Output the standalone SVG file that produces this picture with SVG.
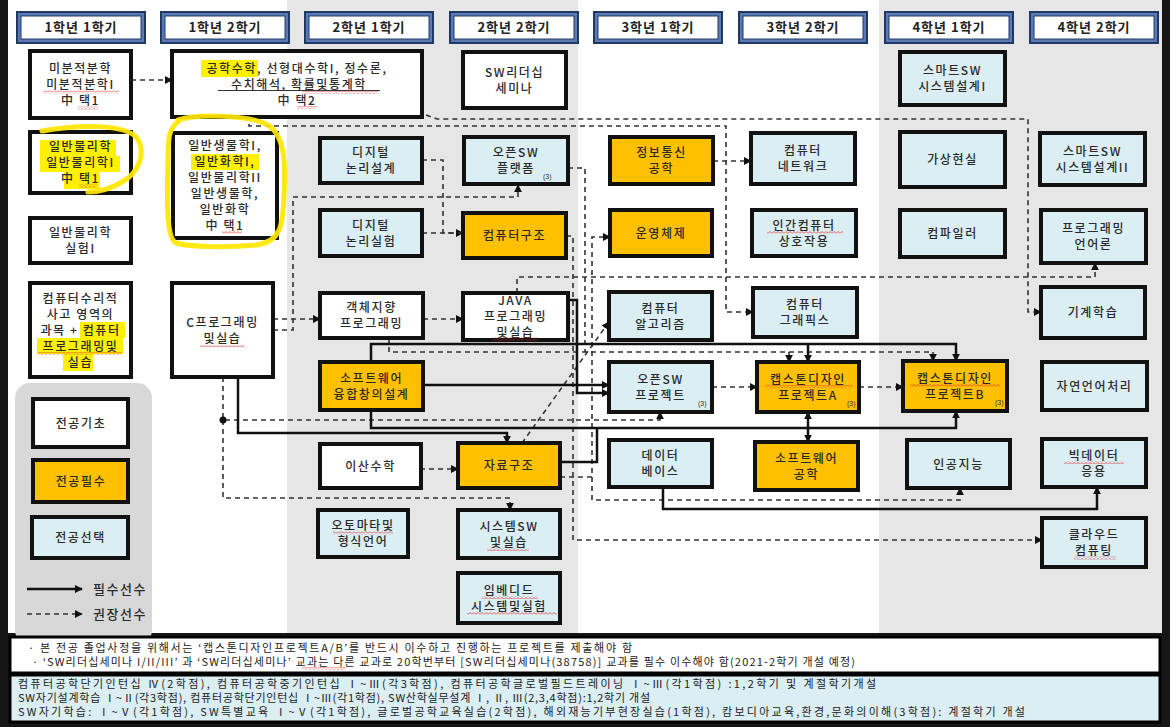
<svg xmlns="http://www.w3.org/2000/svg" width="1170" height="727" viewBox="0 0 1170 727">
<style>
.ho{fill:#5B79B5;stroke:#1F3864;stroke-width:2}
.hi{fill:#fff;stroke:#1F3864;stroke-width:1}
.ht{font-family:"Noto Sans CJK KR","Noto Sans",sans-serif;font-weight:bold;font-size:13px;fill:#222;text-anchor:middle;letter-spacing:1px}
.box{stroke:#111;stroke-width:4}
.w{fill:#fff}.y{fill:#FFC000}.b{fill:#DAEEF3}
.t{font-family:"Noto Sans CJK KR","Noto Sans",sans-serif;font-size:12px;font-weight:500;fill:#2a2a2a;text-anchor:middle;letter-spacing:1.6px}
.sm{font-family:"Liberation Sans",sans-serif;font-size:7px;fill:#333}
.d{fill:none;stroke:#333;stroke-width:1.6;stroke-dasharray:5 4}
.s{fill:none;stroke:#111;stroke-width:2.5}
.hl{fill:#FFF000}
.loop{fill:none;stroke:#FFE600;stroke-width:5;stroke-linecap:round;opacity:0.92}
.sq{fill:url(#sq)}
.nt{font-family:"Noto Sans CJK KR","Noto Sans",sans-serif;font-size:11px;fill:#222}
</style>
<defs>
<marker id="ah" viewBox="0 0 10 10" refX="9" refY="5" markerWidth="8" markerHeight="8" markerUnits="userSpaceOnUse" orient="auto"><path d="M0,0 L10,5 L0,10 z" fill="#111"/></marker>
<pattern id="sq" width="4" height="3" patternUnits="userSpaceOnUse"><path d="M0,2.5 L2,0.5 L4,2.5" fill="none" stroke="#E03030" stroke-width="0.8"/></pattern>
</defs>

<!-- background -->
<rect width="1170" height="727" fill="#161616"/>
<rect x="8" y="0" width="1154" height="633" fill="#fff"/>
<rect x="287" y="0" width="291" height="633" fill="#E6E6E6"/>
<rect x="879" y="0" width="283" height="633" fill="#E6E6E6"/>
<rect x="15" y="383" width="137" height="262" rx="15" fill="#D8D8D8"/>

<!-- headers -->
<g id="headers">
<g id="h1"><rect class="ho" x="17" y="12" width="128" height="31"/><rect class="hi" x="21" y="16" width="120" height="23"/><text class="ht" x="81" y="32">1학년 1학기</text></g>
<g id="h2"><rect class="ho" x="161" y="12" width="128" height="31"/><rect class="hi" x="165" y="16" width="120" height="23"/><text class="ht" x="225" y="32">1학년 2학기</text></g>
<g id="h3"><rect class="ho" x="305" y="12" width="128" height="31"/><rect class="hi" x="309" y="16" width="120" height="23"/><text class="ht" x="369" y="32">2학년 1학기</text></g>
<g id="h4"><rect class="ho" x="450" y="12" width="128" height="31"/><rect class="hi" x="454" y="16" width="120" height="23"/><text class="ht" x="514" y="32">2학년 2학기</text></g>
<g id="h5"><rect class="ho" x="594" y="12" width="128" height="31"/><rect class="hi" x="598" y="16" width="120" height="23"/><text class="ht" x="658" y="32">3학년 1학기</text></g>
<g id="h6"><rect class="ho" x="739" y="12" width="128" height="31"/><rect class="hi" x="743" y="16" width="120" height="23"/><text class="ht" x="803" y="32">3학년 2학기</text></g>
<g id="h7"><rect class="ho" x="885" y="12" width="128" height="31"/><rect class="hi" x="889" y="16" width="120" height="23"/><text class="ht" x="949" y="32">4학년 1학기</text></g>
<g id="h8"><rect class="ho" x="1030" y="12" width="128" height="31"/><rect class="hi" x="1034" y="16" width="120" height="23"/><text class="ht" x="1094" y="32">4학년 2학기</text></g>
</g>

<!-- connectors -->
<g id="connectors">
<path class="d" d="M131,80 H172" marker-end="url(#ah)"/>
<path class="d" d="M249,97 V126 H726 V312 H753" marker-end="url(#ah)"/>
<path class="d" d="M367,93 L437,119 H1028 V312 H1041" marker-end="url(#ah)"/>
<path class="d" d="M273,319 H320" marker-end="url(#ah)"/>
<path class="d" d="M273,330 H293 V197 H518 V185" marker-end="url(#ah)"/>
<path class="d" d="M422,160 H443 V233 H463" marker-end="url(#ah)"/>
<path class="d" d="M422,233 H463"/>
<path class="d" d="M713,161 H751" marker-end="url(#ah)"/>
<path class="d" d="M568,168 H585 V352"/>
<path class="d" d="M223,377 V420 H660 V412" marker-end="url(#ah)"/>
<path class="d" d="M223,420 V498 H510 V510" marker-end="url(#ah)"/>
<circle cx="223" cy="420" r="3.5" fill="#111"/>
<path class="d" d="M423,319 H463" marker-end="url(#ah)"/>
<path class="d" d="M517,293 V277 H1095 V263" marker-end="url(#ah)"/>
<path class="d" d="M389,338 V352 H933 V361" marker-end="url(#ah)"/>
<path class="d" d="M789,352 V362" marker-end="url(#ah)"/>
<path class="d" d="M420,469 H458" marker-end="url(#ah)"/>
<path class="d" d="M522,443 L609,322" marker-end="url(#ah)"/>
<path class="d" d="M560,477 H592 V237 H610" marker-end="url(#ah)"/>
<path class="d" d="M592,477 V500 H960 V488" marker-end="url(#ah)"/>
<path class="d" d="M566,236 H573 V540 H1042" marker-end="url(#ah)"/>
<path class="d" d="M712,387 H757" marker-end="url(#ah)"/>
<path class="d" d="M859,387 H903" marker-end="url(#ah)"/>

<path class="s" d="M238,377 V433 H507 V443" marker-end="url(#ah)"/>
<path class="s" d="M371,362 V344 H956 V361" marker-end="url(#ah)"/>
<path class="s" d="M808,344 V362" marker-end="url(#ah)"/>
<path class="s" d="M423,385 H609" marker-end="url(#ah)"/>
<path class="s" d="M568,300 H577 V393 H609" marker-end="url(#ah)"/>
<path class="s" d="M371,410 V428 H956 V411" marker-end="url(#ah)"/>
<path class="s" d="M808,428 V412" marker-end="url(#ah)"/>
<path class="s" d="M808,428 V442" marker-end="url(#ah)"/>
<path class="s" d="M560,462 H597 V428"/>
<path class="s" d="M663,487 V509 H1097 V487" marker-end="url(#ah)"/>
</g>

<!-- nodes -->
<g id="n-calc"><rect class="box w" x="30" y="51" width="101" height="67"/>
<text class="t"><tspan x="80.5" y="73">미분적분학</tspan><tspan x="80.5" y="89">미분적분학I</tspan><tspan x="80.5" y="105">中 택1</tspan></text>
<rect class="sq" x="43" y="90.5" width="76" height="3"/><rect class="sq" x="78" y="106.5" width="20" height="3"/></g>

<g id="n-phys"><rect class="box w" x="30" y="132" width="101" height="61"/>
<rect class="hl" x="40" y="140" width="76" height="16"/><rect class="hl" x="40" y="156" width="80" height="16"/><rect class="hl" x="64" y="171" width="36" height="18"/>
<text class="t"><tspan x="80.5" y="151">일반물리학</tspan><tspan x="80.5" y="167">일반물리학I</tspan><tspan x="80.5" y="183">中 택1</tspan></text>
<rect class="sq" x="79" y="184.5" width="18" height="3"/></g>

<g id="n-physlab"><rect class="box w" x="30" y="218" width="101" height="45"/>
<text class="t"><tspan x="80.5" y="237">일반물리학</tspan><tspan x="80.5" y="253">실험I</tspan></text></g>

<g id="n-cmath"><rect class="box w" x="30" y="283" width="101" height="94"/>
<rect class="hl" x="80" y="322" width="45" height="16"/><rect class="hl" x="37" y="338" width="86" height="16"/><rect class="hl" x="63" y="354" width="30" height="17"/>
<text class="t"><tspan x="80.5" y="302.5">컴퓨터수리적</tspan><tspan x="80.5" y="318.5">사고 영역의</tspan><tspan x="80.5" y="334.5">과목 + 컴퓨터</tspan><tspan x="80.5" y="350.5">프로그래밍및</tspan><tspan x="80.5" y="366.5">실습</tspan></text>
<rect class="sq" x="38" y="352" width="84" height="3"/></g>

<g id="n-engmath"><rect class="box w" x="172" y="51" width="250" height="66"/>
<rect class="hl" x="201" y="60" width="57" height="17"/>
<text class="t"><tspan x="297" y="72.5">공학수학, 선형대수학I, 정수론,</tspan><tspan x="299" y="88.5">수치해석, 확률및통계학</tspan><tspan x="297" y="104.5">中 택2</tspan></text>
<line x1="218" y1="90.5" x2="380" y2="90.5" stroke="#333" stroke-width="1"/>
<rect class="sq" x="302" y="91" width="76" height="3"/><rect class="sq" x="297" y="106" width="20" height="3"/></g>

<g id="n-bio"><rect class="box w" x="173" y="133" width="104" height="105"/>
<rect class="hl" x="191" y="154" width="68" height="16"/>
<text class="t"><tspan x="225" y="150">일반생물학I,</tspan><tspan x="225" y="166">일반화학I,</tspan><tspan x="225" y="182">일반물리학II</tspan><tspan x="225" y="198">일반생물학,</tspan><tspan x="225" y="214">일반화학</tspan><tspan x="225" y="230">中 택1</tspan></text>
<rect class="sq" x="222" y="231" width="20" height="3"/></g>

<g id="n-cprog"><rect class="box w" x="172" y="283" width="101" height="94"/>
<text class="t"><tspan x="222.5" y="327">C프로그래밍</tspan><tspan x="222.5" y="343">및실습</tspan></text>
<rect class="sq" x="200" y="344.5" width="45" height="3"/></g>

<g id="n-dlogic"><rect class="box b" x="320" y="138" width="102" height="45"/>
<text class="t"><tspan x="371" y="157">디지털</tspan><tspan x="371" y="173">논리설계</tspan></text></g>
<g id="n-dlab"><rect class="box b" x="320" y="210" width="102" height="46"/>
<text class="t"><tspan x="371" y="229.5">디지털</tspan><tspan x="371" y="245.5">논리실험</tspan></text></g>
<g id="n-oop"><rect class="box w" x="320" y="293" width="103" height="45"/>
<text class="t"><tspan x="371.5" y="312">객체지향</tspan><tspan x="371.5" y="328">프로그래밍</tspan></text></g>
<g id="n-swconv"><rect class="box y" x="320" y="362" width="103" height="48"/>
<text class="t"><tspan x="371.5" y="382.5">소프트웨어</tspan><tspan x="371.5" y="398.5">융합창의설계</tspan></text></g>
<g id="n-discrete"><rect class="box w" x="320" y="444" width="101" height="44"/>
<text class="t" x="370.5" y="470.5">이산수학</text></g>
<g id="n-automata"><rect class="box b" x="318" y="510" width="90" height="47"/>
<text class="t"><tspan x="363" y="530">오토마타및</tspan><tspan x="363" y="546">형식언어</tspan></text>
<rect class="sq" x="333" y="531.5" width="60" height="3"/></g>

<g id="n-swlead"><rect class="box w" x="463" y="52" width="103" height="56"/>
<text class="t"><tspan x="514.5" y="76.5">SW리더십</tspan><tspan x="514.5" y="92.5">세미나</tspan></text></g>
<g id="n-osplat"><rect class="box b" x="464" y="137" width="104" height="47"/>
<text class="t"><tspan x="516" y="157">오픈SW</tspan><tspan x="516" y="173">플랫폼</tspan></text>
<text class="sm" x="543" y="179">(3)</text></g>
<g id="n-arch"><rect class="box y" x="463" y="213" width="103" height="45"/>
<text class="t" x="514.5" y="240">컴퓨터구조</text></g>
<g id="n-java"><rect class="box w" x="463" y="293" width="105" height="47"/>
<text class="t"><tspan x="515.5" y="305">JAVA</tspan><tspan x="515.5" y="321">프로그래밍</tspan><tspan x="515.5" y="337">및실습</tspan></text>
<rect class="sq" x="493" y="337.5" width="45" height="3"/></g>
<g id="n-ds"><rect class="box y" x="458" y="443" width="102" height="45"/>
<text class="t" x="509" y="470">자료구조</text></g>
<g id="n-syssw"><rect class="box b" x="458" y="510" width="102" height="48"/>
<text class="t"><tspan x="509" y="530.5">시스템SW</tspan><tspan x="509" y="546.5">및실습</tspan></text>
<rect class="sq" x="487" y="548" width="42" height="3"/></g>
<g id="n-embed"><rect class="box b" x="458" y="573" width="102" height="50"/>
<text class="t"><tspan x="509" y="594.5">임베디드</tspan><tspan x="509" y="610.5">시스템및실험</tspan></text>
<rect class="sq" x="482" y="596" width="56" height="3"/><rect class="sq" x="467" y="612" width="90" height="3"/></g>

<g id="n-infocomm"><rect class="box y" x="610" y="137" width="103" height="47"/>
<text class="t"><tspan x="661.5" y="157">정보통신</tspan><tspan x="661.5" y="173">공학</tspan></text></g>
<g id="n-os"><rect class="box y" x="610" y="210" width="102" height="46"/>
<text class="t" x="661" y="237.5">운영체제</text></g>
<g id="n-algo"><rect class="box b" x="609" y="292" width="103" height="48"/>
<text class="t"><tspan x="660.5" y="312.5">컴퓨터</tspan><tspan x="660.5" y="328.5">알고리즘</tspan></text></g>
<g id="n-osproj"><rect class="box b" x="609" y="362" width="103" height="50"/>
<text class="t"><tspan x="660.5" y="383.5">오픈SW</tspan><tspan x="660.5" y="399.5">프로젝트</tspan></text>
<text class="sm" x="698" y="406">(3)</text></g>
<g id="n-db"><rect class="box b" x="609" y="440" width="103" height="47"/>
<text class="t"><tspan x="660.5" y="460">데이터</tspan><tspan x="660.5" y="476">베이스</tspan></text></g>

<g id="n-net"><rect class="box b" x="751" y="133" width="104" height="51"/>
<text class="t"><tspan x="803" y="155">컴퓨터</tspan><tspan x="803" y="171">네트워크</tspan></text></g>
<g id="n-hci"><rect class="box b" x="752" y="210" width="104" height="46"/>
<text class="t"><tspan x="804" y="229.5">인간컴퓨터</tspan><tspan x="804" y="245.5">상호작용</tspan></text>
<rect class="sq" x="767" y="231" width="76" height="3"/></g>
<g id="n-graphics"><rect class="box b" x="753" y="288" width="104" height="49"/>
<text class="t"><tspan x="805" y="309">컴퓨터</tspan><tspan x="805" y="325">그래픽스</tspan></text></g>
<g id="n-capA"><rect class="box y" x="757" y="362" width="102" height="50"/>
<text class="t"><tspan x="808" y="383.5">캡스톤디자인</tspan><tspan x="808" y="399.5">프로젝트A</tspan></text>
<text class="sm" x="847" y="406">(3)</text>
<rect class="sq" x="765" y="385" width="88" height="3"/></g>
<g id="n-swe"><rect class="box y" x="755" y="442" width="103" height="48"/>
<text class="t"><tspan x="806.5" y="462.5">소프트웨어</tspan><tspan x="806.5" y="478.5">공학</tspan></text></g>

<g id="n-smart1"><rect class="box b" x="900" y="52" width="105" height="53"/>
<text class="t"><tspan x="952.5" y="75">스마트SW</tspan><tspan x="952.5" y="91">시스템설계I</tspan></text></g>
<g id="n-vr"><rect class="box b" x="900" y="132" width="105" height="55"/>
<text class="t" x="952.5" y="164">가상현실</text></g>
<g id="n-compiler"><rect class="box b" x="900" y="210" width="105" height="47"/>
<text class="t" x="952.5" y="238">컴파일러</text></g>
<g id="n-capB"><rect class="box y" x="903" y="361" width="104" height="50"/>
<text class="t"><tspan x="955" y="382.5">캡스톤디자인</tspan><tspan x="955" y="398.5">프로젝트B</tspan></text>
<text class="sm" x="995" y="405">(3)</text>
<rect class="sq" x="910" y="384" width="90" height="3"/></g>
<g id="n-ai"><rect class="box b" x="907" y="440" width="103" height="48"/>
<text class="t" x="958.5" y="468.5">인공지능</text></g>

<g id="n-smart2"><rect class="box b" x="1040" y="133" width="105" height="52"/>
<text class="t"><tspan x="1092.5" y="155.5">스마트SW</tspan><tspan x="1092.5" y="171.5">시스템설계II</tspan></text></g>
<g id="n-plang"><rect class="box b" x="1041" y="210" width="105" height="53"/>
<text class="t"><tspan x="1093.5" y="233">프로그래밍</tspan><tspan x="1093.5" y="249">언어론</tspan></text></g>
<g id="n-ml"><rect class="box b" x="1041" y="287" width="104" height="51"/>
<text class="t" x="1093" y="317">기계학습</text></g>
<g id="n-nlp"><rect class="box b" x="1042" y="362" width="105" height="48"/>
<text class="t" x="1094.5" y="390.5">자연언어처리</text></g>
<g id="n-bigdata"><rect class="box b" x="1042" y="439" width="104" height="48"/>
<text class="t"><tspan x="1094" y="459.5">빅데이터</tspan><tspan x="1094" y="475.5">응용</tspan></text>
<rect class="sq" x="1064" y="461" width="60" height="3"/></g>
<g id="n-cloud"><rect class="box b" x="1042" y="518" width="104" height="49"/>
<text class="t"><tspan x="1094" y="539">클라우드</tspan><tspan x="1094" y="555">컴퓨팅</tspan></text>
<rect class="sq" x="1074" y="556.5" width="42" height="3"/></g>

<!-- highlighter loops -->
<g id="annotations">
<path class="loop" d="M42,131 C80,124 125,124 137,138 C146,152 140,172 122,182 C110,189 100,192 88,192"/>
<path class="loop" d="M178,120 C200,113 250,116 266,124 C284,133 286,160 284,195 C283,225 281,242 256,245 C225,248 190,247 176,243 C166,238 167,200 168,160 C168,140 168,128 180,120"/>
</g>

<!-- legend -->
<g id="legend">
<g id="lg-basic"><rect class="box w" x="33" y="399" width="95" height="48"/><text class="t" x="81" y="427.5">전공기초</text></g>
<g id="lg-req"><rect class="box y" x="33" y="460" width="95" height="42"/><text class="t" x="81" y="485.5">전공필수</text></g>
<g id="lg-elec"><rect class="box b" x="32" y="517" width="96" height="41"/><text class="t" x="80.5" y="542">전공선택</text></g>
<path class="s" d="M27,589 H82" stroke-width="1.5" marker-end="url(#ah)"/>
<path class="d" d="M27,614 H82" marker-end="url(#ah)"/>
<text class="t" x="120" y="594" style="font-size:13px">필수선수</text>
<text class="t" x="120" y="619" style="font-size:13px">권장선수</text>
</g>

<!-- notes -->
<g id="notes">
<rect x="10" y="637" width="1150" height="36" fill="#fff" stroke="#000" stroke-width="3"/>
<rect x="10" y="675" width="1150" height="47" fill="#DAEEF3" stroke="#000" stroke-width="3"/>
<text class="nt" x="28" y="652" textLength="604" lengthAdjust="spacing">· 본 전공 졸업사정을 위해서는 ‘캡스톤디자인프로젝트A/B’를 반드시 이수하고 진행하는 프로젝트를 제출해야 함</text>
<text class="nt" x="32" y="666" textLength="823" lengthAdjust="spacing">· ‘SW리더십세미나 I/II/III’ 과 ‘SW리더십세미나’ 교과는 다른 교과로 20학번부터 [SW리더십세미나(38758)] 교과를 필수 이수해야 함(2021-2학기 개설 예정)</text>
<rect class="sq" x="302" y="667" width="44" height="3"/>
<text class="nt" x="18" y="688" textLength="858" lengthAdjust="spacing">컴퓨터공학단기인턴십 Ⅳ(2학점), 컴퓨터공학중기인턴십 Ⅰ~Ⅲ(각3학점), 컴퓨터공학글로벌필드트레이닝 Ⅰ~Ⅲ(각1학점) :1,2학기 및 계절학기개설</text>
<text class="nt" x="18" y="702" textLength="632" lengthAdjust="spacing">SW자기설계학습 Ⅰ~Ⅱ(각3학점), 컴퓨터공학단기인턴십 Ⅰ~Ⅲ(각1학점), SW산학실무설계 Ⅰ, Ⅱ, Ⅲ(2,3,4학점):1,2학기 개설</text>
<text class="nt" x="18" y="716" textLength="1007" lengthAdjust="spacing">SW자기학습: Ⅰ~Ⅴ(각1학점), SW특별교육 Ⅰ~Ⅴ(각1학점), 글로벌공학교육실습(2학점), 해외재능기부현장실습(1학점), 캄보디아교육,환경,문화의이해(3학점): 계절학기 개설</text>
</g>
</svg>
